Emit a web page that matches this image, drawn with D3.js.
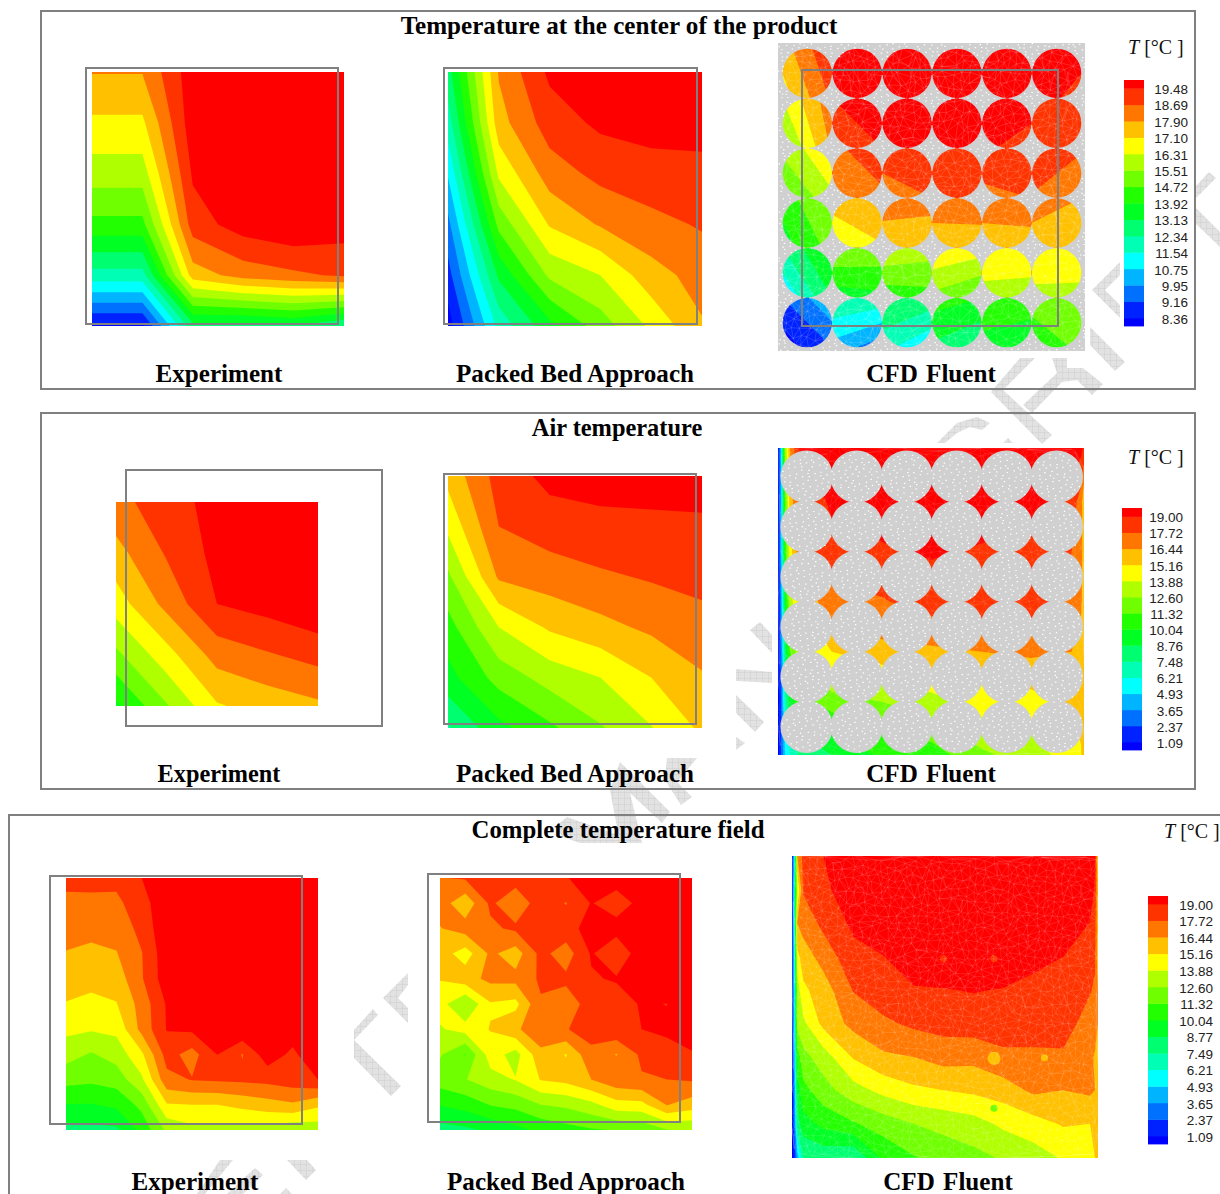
<!DOCTYPE html>
<html><head><meta charset="utf-8">
<script src="https://cdn.jsdelivr.net/npm/d3@7"></script>
<style>html,body{margin:0;padding:0;background:#fff}svg{display:block}</style></head>
<body><svg id="c" width="1220" height="1194"></svg>
<script>
// Band colours from the colour key, lowest to highest.
const bandColors=["#0000ff","#0022ff","#0070ff","#00b4ff","#00ffff","#00ffb4","#00ff70","#00ff22","#22ff00","#70ff00","#b0ff00","#ffff00","#ffc000","#ff7700","#ff3300","#ff0000"];
const legendProduct=["19.48","18.69","17.90","17.10","16.31","15.51","14.72","13.92","13.13","12.34","11.54","10.75","9.95","9.16","8.36"];
const legendAir=["19.00","17.72","16.44","15.16","13.88","12.60","11.32","10.04","8.76","7.48","6.21","4.93","3.65","2.37","1.09"];
const legendField=["19.00","17.72","16.44","15.16","13.88","12.60","11.32","10.04","8.77","7.49","6.21","4.93","3.65","2.37","1.09"];
// Field values in colour-key steps: 0 = lowest key label, 14 = highest.
const productExperiment=[
[12.05,12.05,14.6,15.5,15.5,15.5],
[10.8,10.8,14.6,15.5,15.5,15.5],
[9.5,9.5,14.15,16,16,16],
[7.7,7.7,13.5,14.5,14.9,14.5],
[4.6,4.6,11.5,12.4,12.8,13.15],
[-0.2,-0.2,5.7,5.6,5.9,5]];
const productPacked=[
[5.6,12.1,14.2,15,15.5,15.5],
[4.5,11.6,13.5,14.2,14.4,14.4],
[3.1,10.2,12.5,13.3,13.6,13.7],
[1.7,8.3,11.1,12.1,12.7,13.1],
[0.6,6.2,9.2,10,11.6,12.4],
[-0.5,4.3,6.7,8.5,10.2,11.9]];
// One row per sphere, left to right and top to bottom: NW, NE, SW, SE corner of its box.
const productSpheres=[
[11.5,14,10.5,13.2],[14.6,14.6,14.4,14.4],[14.6,14.6,14.4,14.4],[14.6,14.6,14.4,14.4],[14.6,14.6,14.4,14.4],[14.6,14.3,14.4,13.7],
[10,12.7,8.5,12.2],[14,14.8,13.1,14],[14.6,14.6,14.3,14.3],[14.6,14.6,14.3,14.3],[14.6,14.5,14.2,13.5],[13.8,13.5,13.4,13.3],
[9.3,11,7.6,9.8],[12.6,14.2,12,12.6],[13.5,13.5,12.5,13],[13.8,13.8,13.2,13.2],[13.7,13.9,12.7,13],[14,13.1,12.9,12.2],
[7.4,9.4,6.5,8.4],[11.5,11.9,10,10.9],[12.6,12.5,11.3,11.1],[12.7,12.7,11.3,11.4],[12.5,12.7,11.5,11.5],[12.4,12,11.6,11.3],
[5,7.5,3,6],[9,8.8,6.4,6.7],[10,9.5,7.3,7.6],[11,10.5,8.7,7.8],[11,11,9.5,9.3],[10.8,10.9,9.7,9.6],
[1,2.9,-0.6,1],[5,4.7,2.6,1.3],[6.3,5.6,4.3,3],[7.5,7,5.8,4.8],[7.8,7.6,6.6,6.2],[8.4,8.6,7.3,8.2]];
const airExperiment=[
[12.7,13.5,14.4,15,15],
[11.65,13.1,14.3,15,15],
[10.5,12.3,14,14.4,14.9],
[8.75,10.6,12.4,12.9,13.35],
[6.8,8.9,10.9,11.4,11.8]];
const airPacked=[
[11.3,13.4,14.3,14.45,14.4,14.4],
[10.25,13,13.5,13.7,13.8,13.85],
[8.8,12.15,12.5,12.85,13.1,13.35],
[7.6,10,11.15,11.7,12.2,12.6],
[6.65,8.4,9.4,10,11,11.9],
[4.9,6.7,7.8,8.9,9.95,11.2]];
const airCfd=[
[-0.5,3,9,12,14,14.6,14.6,14.6,14.6,14.6,14.5,14.3,13.8],
[-0.5,2.5,8,11.5,13,14.2,14.4,14.5,14.5,14.4,13.6,12.5,11],
[-0.5,2.5,7.5,10.5,12.5,13.6,13.9,14.1,13.9,13.7,13,12.3,11.5],
[-0.5,2,6.5,9.5,11,12.7,12.9,13.5,13.5,13.6,12.8,12.2,11.5],
[-0.5,1.5,5.5,8,9.5,11,11.7,11.8,12,12.2,12,11.5,11.2],
[-0.5,1,4.5,6.5,7.5,8.5,9,9.6,10.5,10.6,11.2,11.4,11.2],
[-0.5,1,3,4,5,6,7.2,7.5,8.8,9.5,10.5,10.9,11.5]];
const fieldExperiment=[
[13.3,13.4,13.3,14,15,15,15,15,15,15,15],
[12.75,12.7,12.75,13.65,14.65,15,15,15,15,15,15],
[12.35,12.25,12.35,13.3,14.8,15,15,15,15,15,15],
[11.95,11.8,11.95,12.95,14.65,15,15,15,15,15,15],
[11.45,11.3,11.45,12.9,14.6,15,15,15,15,15,15],
[10.95,10.75,10.95,12.4,14.1,15,15,15,15,15,15],
[10.25,10.1,10.25,12.3,14.05,14.2,15,14.9,15,14.6,15],
[9.4,8.9,9.4,10.8,13.4,12.6,14.02,12.95,14.6,13.75,15],
[8.35,8.2,8.45,9.8,12.7,13.05,13.15,13.2,13.3,13.55,14],
[6.95,6.95,7.2,8.3,10.9,11,11,11.3,11.6,11.85,11.2],
[5.7,5.7,5.8,7.3,9.2,9.7,9.7,9.5,9.5,9.2,9.4]];
const fieldPacked=[
[12.95,13.1,13.4,13.5,13.6,13.95,14.4,14.45,15,15,15],
[12.5,11.3,13.2,12.2,13.6,12.95,14.05,13.5,14.3,15,15],
[11.95,12.45,12.8,13.2,13.6,13.6,14.4,14.4,15,15,15],
[11.5,10.5,12.2,11.5,13.3,12.5,14.1,13.2,14.6,15,15],
[11.05,11.6,12.25,12.3,13.15,13.2,13.9,14.1,14.3,15,15],
[10.4,8.98,10.9,10.7,12.9,12.5,13.4,13.5,14.1,13.98,15],
[9.9,10.4,11.05,11.8,12.8,12.95,13.4,13.8,14,14.2,14.6],
[9.1,7.95,10.5,9.6,11.7,10.95,12.75,11.95,13.2,13.6,13.9],
[8.5,8.95,9.6,10.05,11.05,11.3,12,12.7,12.9,13,13.1],
[7.05,7.4,8.05,8.3,9,9.2,9.7,10.6,10.7,12.05,11.5],
[5.6,5.8,6.2,6.7,7.2,7.6,7.9,8.05,8.2,8.95,9.1]];
const fieldCfd=[
[-0.5,4,12,13.3,14,15,15,15,15,15,15,15,15,15,14.2,11],
[-0.5,5,10,13.1,13.7,14.8,15,15,15,15,15,15,15,14.8,13.8,11.5],
[-0.5,5,12,12.4,13.25,14.2,15,15,15,15,15,15,15,13.95,13.3,11.5],
[-0.5,4.5,10.7,11.5,12.4,13.7,13.97,14.6,14.8,14.8,14.7,14.3,14,13.4,13.1,11.5],
[-0.5,4,9.5,10.8,11.5,13.05,13.6,13.9,13.95,14.05,13.95,13.7,13.5,13.05,12.9,12],
[-0.5,4,9.3,9.8,11.3,12.3,12.8,13.2,13.4,13.5,13.5,13.5,13.3,12.7,12.4,12],
[-0.5,3,7.5,8.7,9.5,11.1,11.85,12,12.4,12.3,12.8,12.8,12.9,12.2,11.9,11.5],
[-0.5,2.5,6.5,7.7,8.6,9.6,10.3,10.8,11,11.2,11.5,12.2,12,12.2,12,11.5],
[-0.5,2,5.5,6.6,7.3,7.9,8.5,9,9.3,9.6,10.2,10.6,11.1,11,11.1,11.6],
[-0.5,0.5,2.5,5,5.3,5,7.2,7.9,8.4,8.7,9.1,9.5,10.1,10.6,11,11.6]];
// Small isolated spots in the CFD field: colour-key band and centre as a fraction of the panel.
const fieldSpotBand=[14,14,12,12,9];
const fieldSpotX=[0.495,0.66,0.825,0.66,0.66];
const fieldSpotY=[0.34,0.34,0.668,0.67,0.835];

// ---------- layout (not data) ----------
const airCfdX=[24,33,45,60,85,185,335,485,635,783,905,933,942].map(z=>(z-24)/918);
const airCfdY=[24,185,335,485,635,785,945].map(z=>(z-24)/921);
const fieldCfdX=[36,44,52,70,130,220,310,400,490,580,670,760,850,930,945,954].map(z=>(z-36)/918);
const fieldCfdY=[138,240,340,440,540,640,740,840,940,1043].map(z=>(z-138)/905);
const svg=d3.select("#c");
const defs=svg.append("defs");
const hatch=defs.append("pattern").attr("id","hatch").attr("width",6).attr("height",6).attr("patternUnits","userSpaceOnUse");
hatch.append("rect").attr("width",6).attr("height",6).attr("fill","#e2e2e2");
hatch.append("path").attr("d","M0 0H6M0 0V6").attr("stroke","#c9c9c9").attr("stroke-width",.8);

// faint background watermark fragments
const watermark=[
"1195,187 1209,172 1216,178 1195,199","1195,207 1220,232 1220,247 1195,223",
"1120,262 1092,290 1120,318 1120,305 1105,290 1120,275","1090,327 1125,362 1115,371 1090,345",
"1020,358 1035,358 1003,390 1052,435 1042,444 991,392",
"1052,358 1067,358 1067,368 1083,368 1103,384 1092,395 1077,380 1062,382 1032,413 1023,405 1057,373",
"937,443 957,423 977,417 990,423 982,430 970,427 957,433 945,443","1003,443 1008,438 1013,443",
"750,630 760,622 772,635 772,653","736,669 772,672 772,683 736,681","736,695 764,722 755,732 736,713","736,737 745,743 736,750",
"667,758 697,758 677,782 692,797 681,805 665,780","610,790 620,762 670,812 662,823 630,793 642,843 620,843",
"555,827 567,817 623,837 643,843 580,843 563,837",
"383,998 408,973 408,985 398,998 408,1008 408,1023","354,1030 373,1009 378,1015 354,1040 401,1086 391,1096 354,1058",
"287,1160 307,1160 316,1170 306,1180","197,1194 220,1160 233,1160 205,1194","227,1194 255,1168 263,1175 243,1194","280,1194 286,1188 292,1194"];
svg.append("g").selectAll("polygon").data(watermark).join("polygon").attr("points",d=>d).attr("fill","url(#hatch)");

// Contours are traced on the negated field so low nodes close as isolated diamonds:
// paint from the top band downwards, each layer being "value <= level".
const levels=d3.range(0,15).reverse();
function drawField(parent,grid,box,fx,fy){
  const nr=grid.length,nc=grid[0].length;
  const padded=[grid[0],...grid,grid[nr-1]].map(r=>[r[0],...r,r[nc-1]]);
  const flat=padded.flat().map(v=>-v);
  const fracX=fx||d3.range(nc).map(i=>i/(nc-1)), fracY=fy||d3.range(nr).map(i=>i/(nr-1));
  const X=d3.scaleLinear().domain(d3.range(nc).map(i=>i+1.5)).range(fracX.map(f=>box.x+f*box.w)).clamp(true);
  const Y=d3.scaleLinear().domain(d3.range(nr).map(i=>i+1.5)).range(fracY.map(f=>box.y+f*box.h)).clamp(true);
  const path=d3.geoPath(d3.geoTransform({point(x,y){this.stream.point(X(x),Y(y));}}));
  const g=parent.append("g");
  g.append("rect").attr("x",box.x).attr("y",box.y).attr("width",box.w).attr("height",box.h).attr("fill",bandColors[15]);
  const cs=d3.contours().size([nc+2,nr+2]).thresholds(levels.map(k=>-k))(flat);
  g.selectAll("path").data(cs).join("path").attr("d",path).attr("fill",(d,i)=>bandColors[levels[i]]);
}
// deterministic low-discrepancy point set for the mesh texture
function meshPoints(box,n,jit){
  const g=1.32471795724,a=1/g,b=1/(g*g);
  const h=v=>{const s=Math.sin(v)*43758.5453;return s-Math.floor(s)-.5;};
  return d3.range(n).map(i=>[box.x+box.w*((.5+a*(i+1))%1)+jit*h(i*12.9898),box.y+box.h*((.5+b*(i+1))%1)+jit*h(i*78.233)]);
}
function meshLines(parent,box,n,op){
  const dl=d3.Delaunay.from(meshPoints(box,n,7));
  parent.append("path").attr("d",dl.render()).attr("fill","none").attr("stroke","#fff").attr("stroke-opacity",op).attr("stroke-width",.6);
}
function speckle(parent,pts){
  const p=d3.path();
  pts.forEach(([x,y])=>p.rect(x,y,1.4,1.2));
  parent.append("path").attr("d",p.toString()).attr("fill","#fff");
}

// ---------- Panel 1 ----------
drawField(svg,productExperiment,{x:92,y:72,w:252,h:254});
drawField(svg,productPacked,{x:448,y:72,w:254,h:254});
const pBox={x:778,y:43,w:307,h:308};
const sX=d3.scaleLinear().domain([0,5]).range([807.3,1056.7]), sY=d3.scaleLinear().domain([0,5]).range([73.3,322.7]);
const sCx=d3.range(6).map(sX), sCy=d3.range(6).map(sY), sR=24.6;
productSpheres.forEach((s,i)=>{
  const cx=sX(i%6),cy=sY(Math.floor(i/6));
  drawField(svg,[[s[0],s[1]],[s[2],s[3]]],{x:cx-25,y:cy-25,w:50,h:50});
});
meshLines(svg,pBox,1700,.24);
const mk=defs.append("mask").attr("id","pm").attr("maskUnits","userSpaceOnUse").attr("x",pBox.x).attr("y",pBox.y).attr("width",pBox.w).attr("height",pBox.h);
mk.append("rect").attr("x",pBox.x).attr("y",pBox.y).attr("width",pBox.w).attr("height",pBox.h).attr("fill","#fff");
sCy.forEach((y,j)=>sCx.forEach((x,i)=>{
  mk.append("circle").attr("cx",x).attr("cy",y).attr("r",sR).attr("fill","#000");
  if(i<5) mk.append("rect").attr("x",x+22).attr("y",y-1.8).attr("width",6).attr("height",3.6).attr("fill","#000");
  if(j<5) mk.append("rect").attr("x",x-1.8).attr("y",y+22).attr("width",3.6).attr("height",6).attr("fill","#000");
}));
svg.append("rect").attr("x",pBox.x).attr("y",pBox.y).attr("width",pBox.w).attr("height",pBox.h).attr("fill","#d0d0d0").attr("mask","url(#pm)");
speckle(svg,meshPoints(pBox,3600,1.5).filter(([x,y])=>sCx.every(cx=>sCy.every(cy=>Math.hypot(x-cx,y-cy)>sR+1))));

// ---------- Panel 2 ----------
drawField(svg,airExperiment,{x:116,y:502,w:202,h:204});
drawField(svg,airPacked,{x:448,y:476,w:254,h:252});
const aBox={x:778,y:448,w:306,h:307};
drawField(svg,airCfd,aBox,airCfdX,airCfdY);
meshLines(svg,aBox,1700,.14);
const aX=d3.scaleLinear().domain([0,5]).range([806.7,1056.7]), aY=d3.scaleLinear().domain([0,5]).range([476.7,726.7]);
const aCx=d3.range(6).map(aX), aCy=d3.range(6).map(aY), aR=26.3;
aCy.forEach(y=>aCx.forEach(x=>svg.append("circle").attr("cx",x).attr("cy",y).attr("r",aR).attr("fill","#d0d0d0")));
speckle(svg,meshPoints(aBox,3000,1.5).filter(([x,y])=>aCx.some(cx=>aCy.some(cy=>Math.hypot(x-cx,y-cy)<aR-1))));

// ---------- Panel 3 ----------
drawField(svg,fieldExperiment,{x:66,y:878,w:252,h:252});
drawField(svg,fieldPacked,{x:440,y:878,w:252,h:252});
const fBox={x:792,y:856,w:306,h:302};
drawField(svg,fieldCfd,fBox,fieldCfdX,fieldCfdY);
svg.append("g").selectAll("circle").data(fieldSpotBand).join("circle")
  .attr("cx",(d,i)=>fBox.x+fieldSpotX[i]*fBox.w).attr("cy",(d,i)=>fBox.y+fieldSpotY[i]*fBox.h)
  .attr("r",(d,i)=>i===3?6.5:3.5).attr("fill",d=>bandColors[d]);
meshLines(svg,fBox,1900,.2);

// ---------- frames ----------
const gray="#808080";
const frame=(x0,y0,x1,y1)=>svg.append("rect").attr("x",x0).attr("y",y0).attr("width",x1-x0).attr("height",y1-y0).attr("fill","none").attr("stroke",gray).attr("stroke-width",2);
[[86,68,338,324],[444,68,697,324],[802,70,1058,326],[126,470,382,726],[444,474,696,724],[50,876,302,1124],[428,874,680,1122]].forEach(b=>frame(...b));
frame(41,11,1195,389);frame(41,413,1195,789);frame(9,815,1240,1220);

// ---------- text ----------
const serif="'Liberation Serif','Times New Roman',serif";
function label(t,x,y,ws,fs){svg.append("text").attr("x",x).attr("y",y).attr("text-anchor","middle").attr("font-family",serif).attr("font-weight","bold").attr("font-size",fs||25.1).attr("word-spacing",ws||0).attr("fill","#000").text(t);}
label("Temperature at the center of the product",619,34);
label("Air temperature",617,436,0,24.4);
label("Complete temperature field",618,838,0,24.8);
[["Experiment",219,0],["Packed Bed Approach",575,0],["CFD Fluent",931,2]].forEach(([t,x,w])=>{label(t,x,382,w);label(t,x,782,w,t==="Experiment"?24.3:25.1);});
[["Experiment",195,0],["Packed Bed Approach",566,0],["CFD Fluent",948,2]].forEach(([t,x,w])=>label(t,x,1190,w));

function unit(x,y){
  const t=svg.append("text").attr("x",x).attr("y",y).attr("font-family",serif).attr("font-size",20).attr("fill","#111");
  t.append("tspan").attr("font-style","italic").text("T");
  t.append("tspan").text(" [°C ]");
}
unit(1128,54);unit(1128,464);unit(1164,838);

function legend(labels,x,top,bottom,yHigh,yLow,textRight){
  const y=d3.scaleLinear().domain([14,0]).range([yHigh,yLow]);
  const g=svg.append("g");
  bandColors.forEach((c,k)=>{
    const y0=k===15?top:y(k), y1=k===0?bottom:y(k-1);
    g.append("rect").attr("x",x).attr("y",y0).attr("width",20).attr("height",y1-y0+.4).attr("fill",c);
  });
  labels.forEach((t,i)=>{
    g.append("text").attr("x",textRight).attr("y",y(14-i)+1).attr("dy","0.35em").attr("text-anchor","end")
     .attr("font-family","'Liberation Sans',Arial,sans-serif").attr("font-size",13.5).attr("fill","#222").text(t);
  });
}
legend(legendProduct,1124,80,326,88.3,318,1188);
legend(legendAir,1122,508,750,516.5,742,1183);
legend(legendField,1148,896,1144,904,1136,1213);
</script></body></html>
